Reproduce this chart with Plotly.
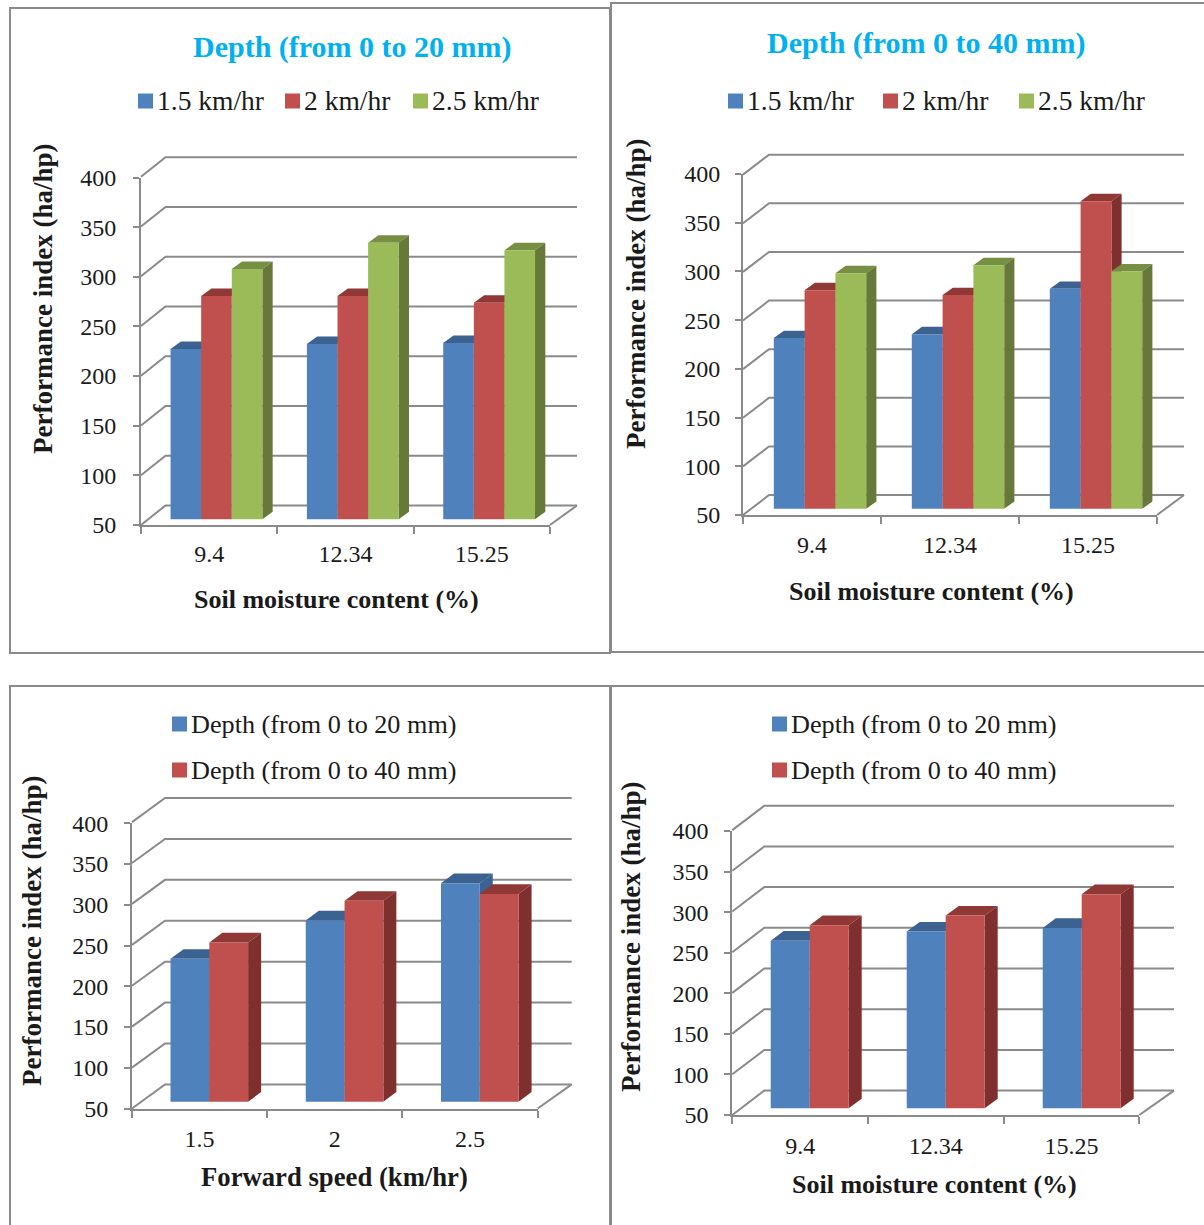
import plotly.graph_objects as go

W, H = 1204, 1225
GREY = "#8a8a8a"
TEXT = "#1a1a1a"
SERIF = "Liberation Serif"

# ---- data ----
moisture = ["9.4", "12.34", "15.25"]
speeds = ["1.5", "2", "2.5"]
tick_values = [50, 100, 150, 200, 250, 300, 350, 400]

a_15 = [221.5, 226.5, 227.5]
a_20 = [275, 275, 268]
a_25 = [302, 328.5, 321]

b_15 = [225.6, 229.7, 276.3]
b_20 = [275, 270, 366.6]
b_25 = [292.5, 300.7, 294.5]

c_d20 = [225, 272, 317.6]
c_d40 = [245, 296, 304.5]

d_d20 = [256.6, 267.8, 272.3]
d_d40 = [275.7, 287.5, 313.9]

speed_names = ["1.5 km/hr", "2 km/hr", "2.5 km/hr"]
depth_names = ["Depth (from 0 to 20 mm)", "Depth (from 0 to 40 mm)"]

# ---- styles ----
BLUE = ("#4f81bd", "#3b6290", "#3b6290")
RED = ("#c0504d", "#8f3836", "#7f302e")
GREEN = ("#9bbb59", "#768f42", "#66783a")

panels = [
    dict(front=(141, 550, 177.5, 525), wall=(165.5, 577, 157.3, 505.5), bars=(148.3, 557.3, 171.8, 519.3),
         barw=30.6, depth=(10.3, 7.5), cats=moisture, series=[a_15, a_20, a_25], names=speed_names,
         colors=[BLUE, RED, GREEN], title="Depth (from 0 to 20 mm)", title_xy=(352.5, 47),
         xt="Soil moisture content (%)", xt_xy=(336.5, 599), xtsize=26, yt_xy=(43, 299), legsize=27.5,
         xstand=6, ystand=12, legend=[(138, 101), (285, 101), (413, 101)]),
    dict(front=(743, 1157, 174, 515), wall=(769, 1184, 154.7, 495), bars=(751, 1165, 168.7, 508.7),
         barw=30.8, depth=(10.2, 7.3), cats=moisture, series=[b_15, b_20, b_25], names=speed_names,
         colors=[BLUE, RED, GREEN], title="Depth (from 0 to 40 mm)", title_xy=(926.5, 43),
         xt="Soil moisture content (%)", xt_xy=(931.5, 591), xtsize=26, yt_xy=(636, 294), legsize=27.5,
         xstand=7, ystand=10, legend=[(728, 101), (883, 101), (1019, 101)]),
    dict(front=(132, 537.7, 823.3, 1108.5), wall=(165, 571.7, 798, 1084.5), bars=(141.7, 547.4, 815.9, 1101.7),
         barw=38.8, depth=(13, 9.6), cats=speeds, series=[c_d20, c_d40], names=depth_names,
         colors=[BLUE, RED], title=None, title_xy=None,
         xt="Forward speed (km/hr)", xt_xy=(334, 1177), xtsize=26.7, yt_xy=(32, 931), legsize=26.2,
         xstand=8, ystand=11, legend=[(172, 724), (172, 770)]),
    dict(front=(732.3, 1139.3, 831, 1115), wall=(764.3, 1174, 805.7, 1090.7), bars=(741.7, 1149.7, 824.3, 1108.3),
         barw=39, depth=(13, 9.6), cats=moisture, series=[d_d20, d_d40], names=depth_names,
         colors=[BLUE, RED], title=None, title_xy=None,
         xt="Soil moisture content (%)", xt_xy=(935, 1184), xtsize=26, yt_xy=(631, 937), legsize=26.2,
         xstand=8, ystand=11, legend=[(772, 724), (772, 770)]),
]


def xd(p):
    return p / W


def yd(p):
    return 1 - p / H


def dom_x(a, b):
    return [max(0, xd(a)), min(1, xd(b))]


def dom_y(top, bot):
    return [yd(bot), yd(top)]


fig = go.Figure()
layout = dict(
    width=W, height=H, margin=dict(l=0, r=0, t=0, b=0), autosize=False,
    paper_bgcolor="white", plot_bgcolor="rgba(0,0,0,0)", showlegend=False,
    font=dict(family=SERIF, color=TEXT, size=24),
)
annotations = []
shapes = []
ax = 0


def add_axes(xcfg, ycfg):
    global ax
    ax += 1
    sfx = "" if ax == 1 else str(ax)
    layout["xaxis" + sfx] = dict(anchor="y" + sfx, fixedrange=True, automargin=False, **xcfg)
    layout["yaxis" + sfx] = dict(anchor="x" + sfx, fixedrange=True, automargin=False, **ycfg)
    return "x" + sfx, "y" + sfx


for p in panels:
    fx0, fx1, fy0, fy1 = p["front"]
    wx0, wx1, wy0, wy1 = p["wall"]
    bx0, bx1, by0, by1 = p["bars"]
    n = len(p["cats"])
    xr = [-0.5, n - 0.5]
    yr = [tick_values[0], tick_values[-1]]
    hidden_x = dict(visible=False, range=xr)
    hidden_y = dict(visible=False, range=yr)

    # gridlines: front tick -> back wall -> along the wall, in units of the front plane
    ufx = (fx1 - fx0) / n
    ufy = (fy1 - fy0) / (yr[1] - yr[0])
    dxu = (wx0 - fx0) / ufx
    dyu = (fy1 - wy1) / ufy
    xend = xr[0] + (wx1 - fx0) / ufx
    pad = 4  # pixels of slack so the outermost lines are not cut by the subplot edge
    gx, gy = add_axes(dict(domain=dom_x(fx0 - pad, wx1 + pad), visible=False,
                           range=[xr[0] - pad / ufx, xend + pad / ufx]),
                      dict(domain=dom_y(wy0 - pad, fy1 + pad), visible=False,
                           range=[yr[0] - pad / ufy, yr[1] + dyu + pad / ufy]))
    for v in tick_values:
        fig.add_trace(go.Scatter(x=[xr[0], xr[0] + dxu, xend], y=[v, v + dyu, v + dyu], xaxis=gx, yaxis=gy,
                                 mode="lines", cliponaxis=False, line=dict(color=GREY, width=2), hoverinfo="skip"))
    fig.add_trace(go.Scatter(x=[xr[1], xend], y=[yr[0], yr[0] + dyu], xaxis=gx, yaxis=gy, mode="lines",
                             cliponaxis=False, line=dict(color=GREY, width=2), hoverinfo="skip"))

    # front plane: the readable axes
    tx, ty = add_axes(
        dict(domain=dom_x(fx0, fx1), range=xr, tickmode="array", tickvals=list(range(n)), ticktext=p["cats"],
             ticks="", showgrid=False, zeroline=False, showline=True, linecolor=GREY, linewidth=2,
             tickfont=dict(family=SERIF, size=24, color=TEXT), ticklabelstandoff=p["xstand"],
             minor=dict(tickmode="array", tickvals=[i - 0.5 for i in range(n + 1)], ticks="outside", ticklen=7,
                        tickcolor=GREY, tickwidth=2, showgrid=False)),
        dict(domain=dom_y(fy0, fy1), range=yr, tickmode="array", tickvals=tick_values, ticks="outside", ticklen=6,
             tickcolor=GREY, tickwidth=2, showgrid=False, zeroline=False, showline=True, linecolor=GREY, linewidth=2,
             tickfont=dict(family=SERIF, size=24, color=TEXT), ticklabelstandoff=p["ystand"]),
    )
    fig.add_trace(go.Scatter(x=list(range(n)), y=[yr[0]] * n, xaxis=tx, yaxis=ty, mode="markers", opacity=0,
                             hoverinfo="skip"))

    # side and top faces sit in their own layer below the front faces
    fx, fy = add_axes(dict(domain=dom_x(bx0, bx1), **hidden_x), dict(domain=dom_y(by0, by1), **hidden_y))
    ux = (bx1 - bx0) / n
    uy = (by1 - by0) / (yr[1] - yr[0])
    m = len(p["series"])
    w = p["barw"] / ux
    ddx = p["depth"][0] / ux
    ddy = p["depth"][1] / uy
    for k, (vals, col) in enumerate(zip(p["series"], p["colors"])):
        off = (k - m / 2) * w
        for i, v in enumerate(vals):
            l = i + off
            r = l + w
            fig.add_trace(go.Scatter(x=[l, r, r + ddx, l + ddx, l], y=[v, v, v + ddy, v + ddy, v],
                                     xaxis=fx, yaxis=fy, mode="lines", fill="toself", fillcolor=col[1],
                                     line=dict(width=0), cliponaxis=False, hoverinfo="skip"))
            fig.add_trace(go.Scatter(x=[r, r + ddx, r + ddx, r, r],
                                     y=[yr[0], yr[0] + ddy, v + ddy, v, yr[0]],
                                     xaxis=fx, yaxis=fy, mode="lines", fill="toself", fillcolor=col[2],
                                     line=dict(width=0), cliponaxis=False, hoverinfo="skip"))

    # front faces
    bx, by = add_axes(dict(domain=dom_x(bx0, bx1), **hidden_x), dict(domain=dom_y(by0, by1), **hidden_y))
    for k, (vals, col, name) in enumerate(zip(p["series"], p["colors"], p["names"])):
        fig.add_trace(go.Bar(x=list(range(n)), y=vals, name=name, xaxis=bx, yaxis=by, width=w, offset=(k - m / 2) * w,
                             marker=dict(color=col[0], line=dict(width=0))))

    # texts
    if p["title"]:
        annotations.append(dict(text="<b>%s</b>" % p["title"], x=xd(p["title_xy"][0]), y=yd(p["title_xy"][1]),
                                xref="paper", yref="paper", showarrow=False, xanchor="center", yanchor="middle",
                                font=dict(family=SERIF, size=30, color="#00b0f0")))
    annotations.append(dict(text="<b>%s</b>" % p["xt"], x=xd(p["xt_xy"][0]), y=yd(p["xt_xy"][1]), xref="paper",
                            yref="paper", showarrow=False, xanchor="center", yanchor="middle",
                            font=dict(family=SERIF, size=p["xtsize"], color=TEXT)))
    annotations.append(dict(text="<b>Performance index (ha/hp)</b>", x=xd(p["yt_xy"][0]), y=yd(p["yt_xy"][1]),
                            xref="paper", yref="paper", showarrow=False, xanchor="center", yanchor="middle",
                            textangle=-90, font=dict(family=SERIF, size=27, color=TEXT)))
    for (lx, ly), name, col in zip(p["legend"], p["names"], p["colors"]):
        shapes.append(dict(type="rect", xref="paper", yref="paper", x0=xd(lx), x1=xd(lx + 15), y0=yd(ly + 7.5),
                           y1=yd(ly - 7.5), fillcolor=col[0], line=dict(width=0)))
        annotations.append(dict(text=name, x=xd(lx + 17), y=yd(ly), xref="paper", yref="paper", showarrow=False,
                                xanchor="left", yanchor="middle", font=dict(family=SERIF, size=p["legsize"], color=TEXT)))

# panel frames
frames = [(10, 8, 610, 653), (611, 3, 1210, 652), (10, 686, 610, 1232), (611, 686, 1210, 1232)]
for x0, y0, x1, y1 in frames:
    shapes.append(dict(type="rect", xref="paper", yref="paper", x0=xd(x0), x1=xd(x1), y0=yd(y1), y1=yd(y0),
                       line=dict(color=GREY, width=2), fillcolor="rgba(0,0,0,0)"))

layout["annotations"] = annotations
layout["shapes"] = shapes
fig.update_layout(**layout)
fig.write_html("out.html", config=dict(displayModeBar=False),
               post_script="document.body.style.margin='0';document.body.style.overflow='hidden';")
